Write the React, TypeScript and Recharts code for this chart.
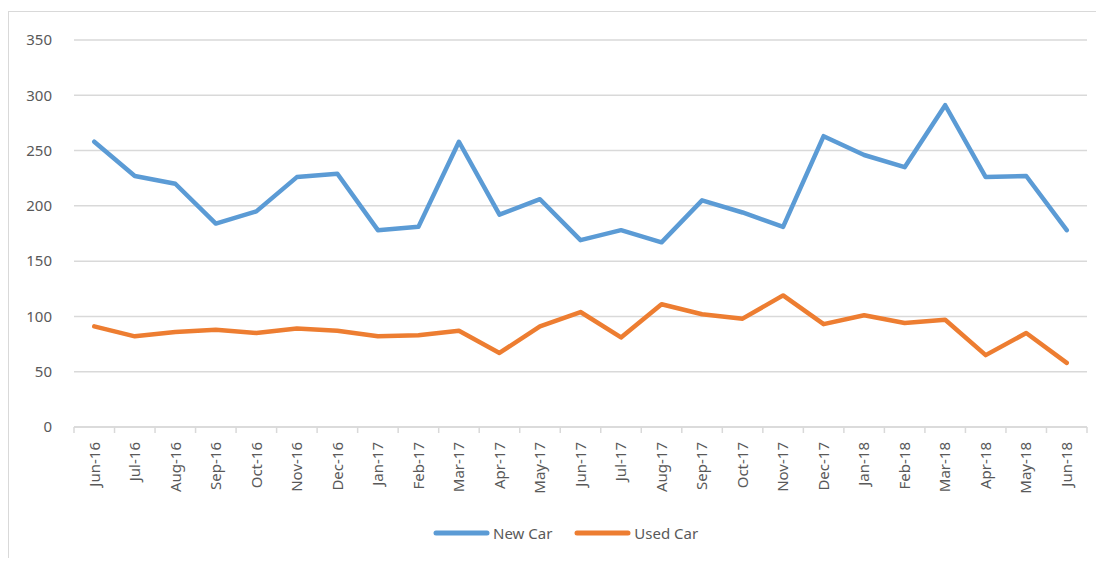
import React from "react";
import { LineChart, Line, XAxis, YAxis, CartesianGrid } from "recharts";

const months = [
  "Jun-16", "Jul-16", "Aug-16", "Sep-16", "Oct-16", "Nov-16", "Dec-16",
  "Jan-17", "Feb-17", "Mar-17", "Apr-17", "May-17", "Jun-17", "Jul-17",
  "Aug-17", "Sep-17", "Oct-17", "Nov-17", "Dec-17", "Jan-18", "Feb-18",
  "Mar-18", "Apr-18", "May-18", "Jun-18",
];

const newCar = [
  258, 227, 220, 184, 195, 226, 229, 178, 181, 258, 192, 206, 169, 178,
  167, 205, 194, 181, 263, 246, 235, 291, 226, 227, 178,
];

const usedCar = [
  91, 82, 86, 88, 85, 89, 87, 82, 83, 87, 67, 91, 104, 81, 111, 102, 98,
  119, 93, 101, 94, 97, 65, 85, 58,
];

const yTicks = [0, 50, 100, 150, 200, 250, 300, 350];

const seriesNames = ["New Car", "Used Car"];
const seriesColors = ["#5B9BD5", "#ED7D31"];

const data = months.map((m, i) => ({ month: m, newCar: newCar[i], usedCar: usedCar[i] }));

const FONT = "'Noto Sans', sans-serif";
const TEXT = "#595959";
const GRID = "#d9d9d9";

const W = 1096;
const H = 550;
const MARGIN = { top: 32, right: 17, left: 0, bottom: 0 };
const YW = 66;
const BAND = (W - MARGIN.right - YW) / months.length;

const XTick = (props: any) => {
  const { x, y, payload, index } = props;
  const half = BAND / 2;
  const last = index === months.length - 1;
  return (
    <g>
      <line x1={x - half} x2={x - half} y1={y} y2={y + 6} stroke={GRID} strokeWidth={1.5} />
      {last && <line x1={x + half} x2={x + half} y1={y} y2={y + 6} stroke={GRID} strokeWidth={1.5} />}
      <text
        x={x}
        y={y + 15}
        transform={`rotate(-90, ${x}, ${y + 15})`}
        textAnchor="end"
        dy="0.35em"
        fill={TEXT}
        fontSize={15}
        fontFamily={FONT}
      >
        {payload.value}
      </text>
    </g>
  );
};

export default function App() {
  return (
    <div style={{ position: "relative", width: W, height: H, fontFamily: FONT }}>
      <div
        style={{
          position: "absolute",
          left: 0,
          top: 3,
          width: W - 1,
          height: H - 3,
          borderTop: `1px solid ${GRID}`,
          borderLeft: `1px solid ${GRID}`,
        }}
      />
      <div style={{ position: "absolute", left: 0, top: 0 }}>
        <LineChart width={W} height={H} data={data} margin={MARGIN}>
          <CartesianGrid vertical={false} stroke={GRID} strokeWidth={1.5} />
          <XAxis
            dataKey="month"
            scale="band"
            interval={0}
            height={131}
            tickLine={false}
            tickSize={0}
            tickMargin={0}
            axisLine={{ stroke: GRID, strokeWidth: 1.5 }}
            tick={<XTick />}
          />
          <YAxis
            width={YW}
            domain={[0, 350]}
            ticks={yTicks}
            axisLine={false}
            tickLine={false}
            tickSize={0}
            tickMargin={22}
            tick={{ fill: TEXT, fontSize: 15, fontFamily: FONT }}
          />
          <Line
            type="linear"
            dataKey="newCar"
            name={seriesNames[0]}
            stroke={seriesColors[0]}
            strokeWidth={4.5}
            strokeLinecap="round"
            strokeLinejoin="round"
            dot={false}
            activeDot={false}
            isAnimationActive={false}
          />
          <Line
            type="linear"
            dataKey="usedCar"
            name={seriesNames[1]}
            stroke={seriesColors[1]}
            strokeWidth={4.5}
            strokeLinecap="round"
            strokeLinejoin="round"
            dot={false}
            activeDot={false}
            isAnimationActive={false}
          />
        </LineChart>
      </div>
      <div
        style={{
          position: "absolute",
          left: 425,
          top: 515,
          height: 20,
          display: "flex",
          alignItems: "center",
          color: TEXT,
          fontSize: 15,
          whiteSpace: "nowrap",
        }}
      >
        {seriesNames.map((n, i) => (
          <div key={n} style={{ display: "flex", alignItems: "center", marginRight: i === 0 ? 22 : 0 }}>
            <svg width={57} height={10} style={{ display: "block" }}>
              <line x1={3} x2={54} y1={5} y2={5} stroke={seriesColors[i]} strokeWidth={5} strokeLinecap="round" />
            </svg>
            <span style={{ marginLeft: 3, lineHeight: "20px" }}>{n}</span>
          </div>
        ))}
      </div>
    </div>
  );
}
